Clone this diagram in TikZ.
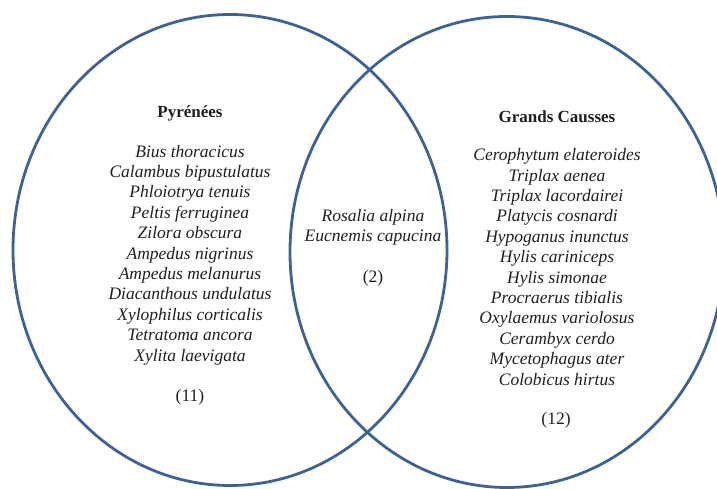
\documentclass[tikz,border=0pt]{standalone}
\usepackage{fontspec}
\setmainfont{Liberation Serif}
\definecolor{vennblue}{RGB}{61,98,148}
\def\rx{217}
\def\ry{235.5}

\tikzset{
  set/.style={draw=vennblue, line width=2.8pt},
  species/.style={align=center, text=black!88, font=\fontsize{17.5}{20.4}\selectfont\itshape},
  title/.style={text=black!88, font=\fontsize{17}{20}\selectfont\bfseries},
  count/.style={text=black!88, font=\fontsize{17.5}{20}\selectfont}
}

\begin{document}
\begin{tikzpicture}[x=1pt,y=1pt]
  \useasboundingbox (0,0) rectangle (717,489);
  \clip (0,0) rectangle (717,489);

  % the two sets
  \draw[set] (230,239) ellipse [x radius=\rx, y radius=\ry];
  \draw[set] (507,237) ellipse [x radius=\rx, y radius=\ry];

  % Left set
  \node[title] (pyr) at (190,376) {Pyrénées};
  \node[species] (pyrlist) at (190,234) {Bius thoracicus\\ Calambus bipustulatus\\ Phloiotrya tenuis\\
    Peltis ferruginea\\ Zilora obscura\\ Ampedus nigrinus\\ Ampedus melanurus\\
    Diacanthous undulatus\\ Xylophilus corticalis\\ Tetratoma ancora\\ Xylita laevigata};
  \node[count] (pyrn) at (190,92) {(11)};

  % Both sets
  \node[species] (bothlist) at (373,262) {Rosalia alpina\\ Eucnemis capucina};
  \node[count] (bothn) at (373,211) {(2)};

  % Right set
  \node[title] (cau) at (557,372) {Grands Causses};
  \node[species] (caulist) at (557,222) {Cerophytum elateroides\\ Triplax aenea\\ Triplax lacordairei\\
    Platycis cosnardi\\ Hypoganus inunctus\\ Hylis cariniceps\\ Hylis simonae\\
    Procraerus tibialis\\ Oxylaemus variolosus\\ Cerambyx cerdo\\ Mycetophagus ater\\ Colobicus hirtus};
  \node[count] (caun) at (556,69) {(12)};

\end{tikzpicture}
\end{document}
